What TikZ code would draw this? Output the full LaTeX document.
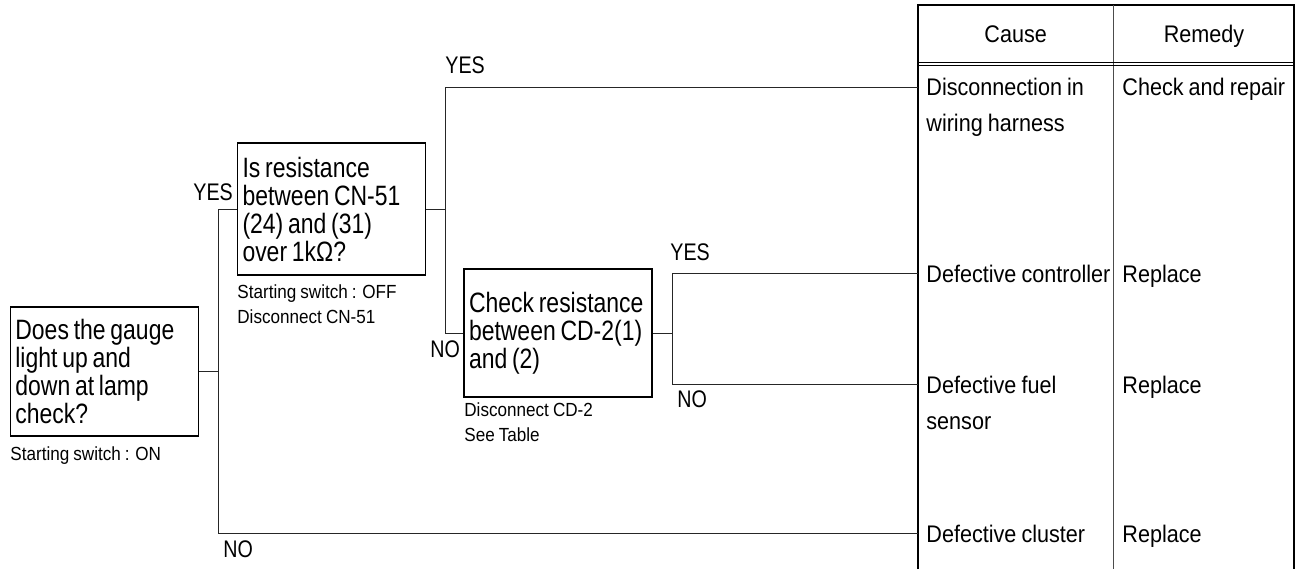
\documentclass[tikz,border=0pt]{standalone}
\usepackage{fontspec}
\setmainfont{Liberation Sans}[FakeStretch=0.9, WordSpace=0.85]
\newfontfamily\boxfont{Liberation Sans}[FakeStretch=0.82, WordSpace=0.75]
\usetikzlibrary{positioning}
\tikzstyle{question} = [draw, line width=0.7pt, rectangle, minimum width=94pt, text width=89pt, inner xsep=2.5pt, align=flush left, font=\boxfont\fontsize{14}{14}\selectfont]
\tikzstyle{note} = [inner sep=0pt, anchor=base west, align=left, font=\fontsize{9.5}{12.5}\selectfont]
\tikzstyle{answer} = [inner sep=0pt, anchor=base west, font=\boxfont\fontsize{12}{12}\selectfont]
\tikzstyle{cell} = [inner sep=0pt, anchor=base west, align=left, font=\fontsize{12}{18}\selectfont]
\tikzstyle{wire} = [line width=0.5pt, black!85]

\begin{document}
\begin{tikzpicture}[x=0.5pt, y=-0.5pt]
\useasboundingbox (0,0) rectangle (1302,569);

% questions
\node (gauge) [question, minimum height=64.5pt] at (104.4,371.5)
  {Does the gauge\\light up and\\down at lamp\\check?};
\node (res) [question, minimum height=66pt] at (331.5,209)
  {Is resistance\\between CN-51\\(24) and (31)\\over 1kΩ?};
\node (chk) [question, minimum height=64pt] at (558,333)
  {Check resistance\\between CD-2(1)\\and (2)};

% notes (anchored at the last line)
\node (ngauge) [note] at (10,460) {Starting switch : ON};
\node (nres) [note] at (237,323) {Starting switch : OFF\\Disconnect CN-51};
\node (nchk) [note] at (464,441) {Disconnect CD-2\\See Table};

% junctions
\coordinate (j1) at (218,371.5);
\coordinate (j1t) at (218,209);
\coordinate (j1b) at (218,533);
\coordinate (j2) at (445,209);
\coordinate (j2t) at (445,87);
\coordinate (j2b) at (445,333);
\coordinate (j3) at (672,333);
\coordinate (j3t) at (672,273);
\coordinate (j3b) at (672,384);

% table
\coordinate (tl) at (917.7,5);
\coordinate (tr) at (1294,5);
\coordinate (bl) at (917.7,569);
\coordinate (br) at (1294,569);
\coordinate (mt) at (1113.7,5);
\coordinate (mb) at (1113.7,569);
\coordinate (r1) at (917.7,87);
\coordinate (r2) at (917.7,273);
\coordinate (r3) at (917.7,384);
\coordinate (r4) at (917.7,533);
\draw[line width=1pt] (bl) -- (tl) -- (tr) -- (br);
\draw[line width=0.5pt, black!70] (mt) -- (mb);
\draw[line width=0.5pt] (917.7,62) -- (1294,62);
\draw[line width=0.5pt] (917.7,65) -- (1294,65);

\node (cause) [cell, anchor=base] at (1015.7,42) {Cause};
\node (remedy) [cell, anchor=base] at (1204,42) {Remedy};
\node (c1) [cell] at (926,131) {Disconnection in\\wiring harness};
\node (m1) [cell] at (1122,95) {Check and repair};
\node (c2) [cell] at (926,282) {Defective controller};
\node (m2) [cell] at (1122,282) {Replace};
\node (c3) [cell] at (926,429) {Defective fuel\\sensor};
\node (m3) [cell] at (1122,393) {Replace};
\node (c4) [cell] at (926,542) {Defective cluster};
\node (m4) [cell] at (1122,542) {Replace};

% connectors
\draw[wire] (gauge.east) -- (j1);
\draw[wire] (j1t) -- (j1b);
\draw[wire] (j1t) -- (res.west);
\draw[wire] (j1b) -- (r4);
\draw[wire] (res.east) -- (j2);
\draw[wire] (j2t) -- (j2b);
\draw[wire] (j2t) -- (r1);
\draw[wire] (j2b) -- (chk.west);
\draw[wire] (chk.east) -- (j3);
\draw[wire] (j3t) -- (j3b);
\draw[wire] (j3t) -- (r2);
\draw[wire] (j3b) -- (r3);

% answers
\node (y1) [answer] at (193,200) {YES};
\node (n1) [answer] at (223,557) {NO};
\node (y2) [answer] at (445,73) {YES};
\node (n2) [answer] at (430,357) {NO};
\node (y3) [answer] at (670,260) {YES};
\node (n3) [answer] at (677,407) {NO};
\end{tikzpicture}
\end{document}
